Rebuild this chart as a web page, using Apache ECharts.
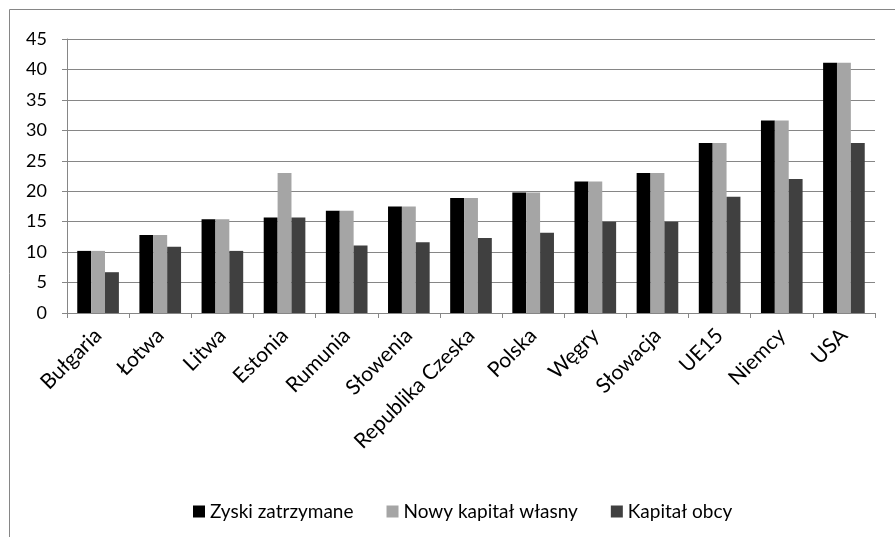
<!DOCTYPE html>
<html>
<head>
<meta charset="utf-8">
<script src="https://cdn.jsdelivr.net/npm/echarts@6/dist/echarts.min.js"></script>
<style>
  html, body { margin: 0; padding: 0; background: #fff; }
  #chart { width: 895px; height: 537px; }
</style>
</head>
<body>
<div id="chart"></div>
<script>
// Countries on the category axis
const categories = ['Bułgaria', 'Łotwa', 'Litwa', 'Estonia', 'Rumunia', 'Słowenia',
  'Republika Czeska', 'Polska', 'Węgry', 'Słowacja', 'UE15', 'Niemcy', 'USA'];

// Series values
const zyskiZatrzymane = [10.2, 12.8, 15.4, 15.7, 16.8, 17.5, 18.9, 19.8, 21.6, 23.0, 27.9, 31.6, 41.1];
const nowyKapitalWlasny = [10.2, 12.8, 15.4, 23.0, 16.8, 17.5, 18.9, 19.8, 21.6, 23.0, 27.9, 31.6, 41.1];
const kapitalObcy = [6.7, 10.9, 10.2, 15.7, 11.1, 11.6, 12.3, 13.2, 15.0, 15.0, 19.1, 22.0, 27.9];

const seriesNames = ['Zyski zatrzymane', 'Nowy kapitał własny', 'Kapitał obcy'];
const seriesColors = ['#000000', '#a5a5a5', '#404040'];

const FONT = 'Lato';
const AXIS_GRAY = '#868686';

const chart = echarts.init(document.getElementById('chart'), null, { renderer: 'canvas' });

const dataSets = [zyskiZatrzymane, nowyKapitalWlasny, kapitalObcy];

chart.setOption({
  animation: false,
  backgroundColor: '#ffffff',
  textStyle: { fontFamily: FONT },
  graphic: [{
    type: 'rect',
    shape: { x: 9.5, y: 9.5, width: 940, height: 560 },
    style: { fill: 'none', stroke: AXIS_GRAY, lineWidth: 1 },
    silent: true
  }],
  grid: { left: 67, top: 39, right: 20, bottom: 224, containLabel: false },
  legend: {
    top: 497,
    left: 188,
    itemWidth: 12,
    itemHeight: 12,
    itemGap: 33,
    icon: 'rect',
    textStyle: { fontFamily: FONT, fontSize: 19, color: '#000' },
    data: seriesNames
  },
  xAxis: {
    type: 'category',
    data: categories,
    axisLine: { lineStyle: { color: AXIS_GRAY, width: 1 } },
    axisTick: { show: true, length: 5, lineStyle: { color: AXIS_GRAY }, alignWithLabel: false },
    axisLabel: {
      interval: 0,
      rotate: 45,
      margin: 19,
      fontFamily: FONT,
      fontSize: 21,
      color: '#000'
    }
  },
  yAxis: {
    type: 'value',
    min: 0,
    max: 45,
    interval: 5,
    axisLine: { show: true, lineStyle: { color: AXIS_GRAY, width: 1 } },
    axisTick: { show: true, length: 5, lineStyle: { color: AXIS_GRAY } },
    splitLine: { show: true, lineStyle: { color: AXIS_GRAY, width: 1 } },
    axisLabel: { fontFamily: FONT, fontSize: 18, color: '#000', margin: 20 }
  },
  series: dataSets.map((d, i) => ({
    name: seriesNames[i],
    type: 'bar',
    data: d,
    barGap: '0%',
    barCategoryGap: '33%',
    itemStyle: { color: seriesColors[i] }
  }))
});
</script>
</body>
</html>
